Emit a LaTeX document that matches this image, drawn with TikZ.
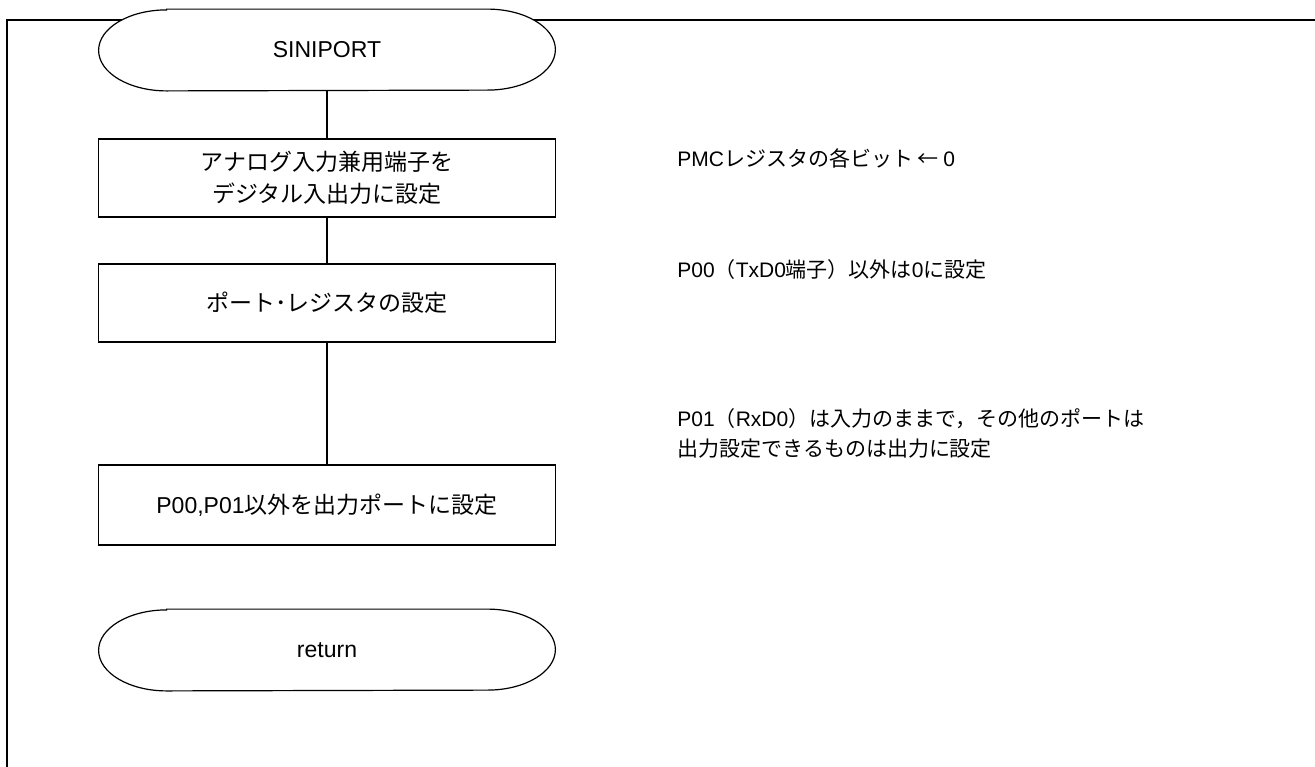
\documentclass[tikz,border=0pt]{standalone}
\usepackage{fontspec}
\setmainfont{Liberation Sans}
\newfontfamily\jp{Noto Sans CJK JP}
\newfontfamily\lat{Liberation Sans}

% outline of a terminal: flat top and bottom, half ellipses at the ends
\newcommand{\termline}[1]{%
  \draw[line width=0.6pt, fill=white]
    ([xshift=34pt]#1.north west) -- ([xshift=-34pt]#1.north east)
    arc[start angle=90, end angle=-90, x radius=34pt, y radius=20.25pt]
    -- ([xshift=34pt]#1.south west)
    arc[start angle=270, end angle=90, x radius=34pt, y radius=20.25pt]
    -- cycle;}

\tikzset{
  term/.style={rectangle, minimum width=228pt, minimum height=40.5pt,
    inner sep=0pt, font=\fontsize{11.5}{14}\selectfont},
  proc/.style={rectangle, draw, line width=0.75pt, minimum width=228.5pt,
    minimum height=39pt, align=center, inner sep=0pt,
    font=\jp\fontsize{11.5}{16}\selectfont},
  note/.style={anchor=west, inner sep=0pt, align=left,
    font=\jp\fontsize{10.5}{15}\selectfont},
  flow/.style={line width=0.75pt}
}

\begin{document}
\begin{tikzpicture}[x=0.5pt,y=-0.5pt]

\useasboundingbox (0,0) rectangle (1315,766);

% frame
\draw[line width=1pt] (7,767) -- (7,20) -- (1316,20);

% flow
\node[term] (start) at (327,50) {};
\termline{start}
\node[term] at (start) {SINIPORT};
\node[proc] (pmc) at (327,178) {アナログ入力兼用端子を\\デジタル入出力に設定};
\node[proc] (reg) at (327,303) {ポート･レジスタの設定};
\node[proc, minimum height=40pt] (out) at (327,505) {{\lat P00,P01}以外を出力ポートに設定};
\node[term] (ret) at (327,650) {};
\termline{ret}
\node[term] at (ret) {return};

\draw[flow] (start) -- (pmc);
\draw[flow] (pmc) -- (reg);
\draw[flow] (reg) -- (out);

% comments
\node[note] (c1) at (677,158) {{\lat PMC}レジスタの各ビット ← {\lat 0}};
\node[note] (c2) at (677,270) {{\lat P00}（{\lat TxD0}端子）以外は{\lat 0}に設定};
\node[note] (c3) at (677,433) {{\lat P01}（{\lat RxD0}）は入力のままで，その他のポートは\\出力設定できるものは出力に設定};

\end{tikzpicture}
\end{document}
